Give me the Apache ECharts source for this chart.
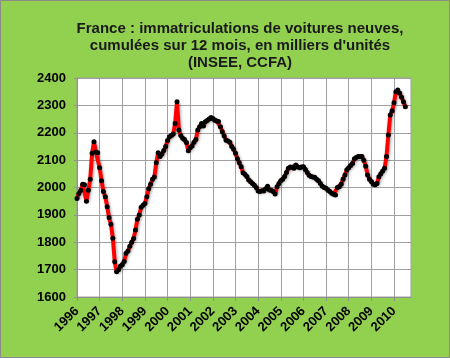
<!DOCTYPE html>
<html><head><meta charset="utf-8">
<script src="https://cdn.jsdelivr.net/npm/echarts@6/dist/echarts.min.js"></script>
<style>html,body{margin:0;padding:0;background:#92D050;}#c{width:450px;height:358px;}</style>
</head><body><div id="c"></div>
<script>
const titleLines = ["France : immatriculations de voitures neuves,", "cumulées sur 12 mois, en milliers d'unités", "(INSEE, CCFA)"];
const startYear = 1996;
const endYear = 2010;
const lastMonth = 10; // axis runs to Oct 2010
const yTicks = [1600, 1700, 1800, 1900, 2000, 2100, 2200, 2300, 2400];
// monthly values, Jan 1996 .. Jul 2010 (thousands)
const values = [
1960,1978,1990,2012,2010,1950,1990,2030,2125,2167,2130,2127,
2072,2025,1985,1966,1930,1890,1866,1815,1729,1692,1700,1712,
1718,1730,1760,1768,1785,1800,1814,1845,1884,1900,1928,1935,
1942,1966,1995,2012,2030,2038,2090,2127,2113,2122,2135,2150,
2172,2185,2190,2195,2234,2313,2210,2190,2180,2175,2164,2134,
2145,2152,2165,2175,2210,2222,2234,2225,2240,2245,2250,2256,
2252,2246,2243,2241,2222,2204,2188,2173,2170,2165,2150,2140,
2125,2105,2090,2076,2054,2048,2040,2027,2021,2015,2008,2000,
1987,1985,1988,1987,1995,2005,1991,1990,1985,1976,2003,2015,
2025,2030,2040,2055,2070,2075,2074,2070,2082,2075,2072,2075,
2076,2066,2055,2045,2040,2038,2037,2030,2025,2015,2005,2000,
1997,1990,1985,1979,1975,1973,2000,2003,2012,2030,2046,2065,
2072,2080,2088,2105,2110,2113,2112,2113,2100,2078,2046,2030,
2022,2012,2010,2015,2039,2050,2060,2070,2113,2192,2265,2280,
2310,2350,2356,2345,2330,2313,2295
];
const categories = [];
for (let y = startYear; y <= endYear; y++) {
  for (let m = 1; m <= 12; m++) {
    if (y === endYear && m > lastMonth) break;
    categories.push(y + '-' + (m < 10 ? '0' + m : m));
  }
}
const chart = echarts.init(document.getElementById('c'));
const isYearStart = (i) => i % 12 === 0;
const FONT = '"Liberation Sans", Arial, sans-serif';
chart.setOption({
  backgroundColor: '#92D050',
  animation: false,
  graphic: [
    {type:'rect', shape:{x:0.5,y:0.5,width:449,height:357}, style:{fill:'none', stroke:'#8a8a8a', lineWidth:1}},
    {type:'text', x:240, y:20, style:{text: titleLines.join('\n'), align:'center', verticalAlign:'top', font:'bold 15px ' + FONT, fill:'#1a1a1a', lineHeight:17}}
  ],
  grid: {left:77, right:39, top:78, bottom:61, show:true, backgroundColor:'#ffffff', borderColor:'#a0a0a0', borderWidth:1},
  xAxis: {
    type:'category', data: categories, boundaryGap:false,
    axisLine:{lineStyle:{color:'#909090'}},
    axisTick:{interval:(i)=>isYearStart(i), length:4, lineStyle:{color:'#909090'}},
    splitLine:{show:true, interval:(i)=>isYearStart(i), lineStyle:{color:'#a0a0a0', width:1}},
    axisLabel:{interval:(i)=>isYearStart(i), formatter:(v)=>v.slice(0,4), rotate:45, margin:12,
      color:'#000', fontWeight:'bold', fontSize:13, fontFamily:FONT}
  },
  yAxis: {
    type:'value', min:yTicks[0], max:yTicks[yTicks.length-1], interval:100,
    axisLine:{show:true, lineStyle:{color:'#909090'}},
    axisTick:{show:true, length:3, lineStyle:{color:'#909090'}},
    splitLine:{lineStyle:{color:'#a0a0a0', width:1}},
    axisLabel:{margin:11, formatter:(v)=>String(v), color:'#000', fontWeight:'bold', fontSize:13, fontFamily:FONT}
  },
  series: [{
    type:'line', data: values, symbol:'circle', symbolSize:5, showAllSymbol:true,
    lineStyle:{color:'#FF0000', width:4, shadowColor:'rgba(0,0,0,0.35)', shadowBlur:3, shadowOffsetX:1, shadowOffsetY:1},
    itemStyle:{color:'#000000', borderWidth:0}
  }]
});
</script></body></html>
